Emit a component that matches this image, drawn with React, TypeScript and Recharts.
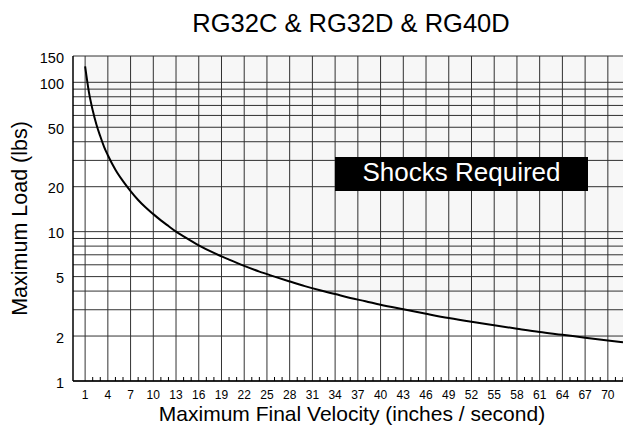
import React from "react";
import { ComposedChart, Area, Line, XAxis, YAxis, CartesianGrid } from "recharts";

// curve (velocity in inches/second, load in lbs)
const velocity = [
  1, 1.5, 2, 2.5, 3, 3.5, 4, 5, 6, 7, 8, 9, 10, 11, 12, 13, 14, 16, 18, 20, 22, 24, 26, 28, 30,
  32, 34, 36, 38, 40, 43, 46, 49, 52, 55, 58, 61, 64, 67, 70, 72,
];
const maxLoad = [
  128, 86, 65, 52, 43.5, 37, 32.5, 26, 21.8, 18.7, 16.3, 14.5, 13.1, 11.9, 10.9, 10.0, 9.3, 8.1,
  7.2, 6.5, 5.9, 5.4, 5.0, 4.64, 4.32, 4.05, 3.82, 3.6, 3.42, 3.24, 3.02, 2.82, 2.64, 2.49, 2.36,
  2.24, 2.13, 2.04, 1.95, 1.87, 1.82,
];

const loadTicks = [1, 2, 5, 10, 20, 50, 100, 150];
const loadGrid = [1, 2, 3, 4, 5, 6, 7, 8, 9, 10, 20, 30, 40, 50, 60, 70, 80, 90, 100, 150];
const velocityLabels = [
  1, 4, 7, 10, 13, 16, 19, 22, 25, 28, 31, 34, 37, 40, 43, 46, 49, 52, 55, 58, 61, 64, 67, 70,
];
const velocityMinor = velocityLabels.flatMap((v) => [v + 1, v + 2]);
const velocityTicks = [...velocityLabels, ...velocityMinor].sort((a, b) => a - b);

const CEILING = 150;
const FONT = "'Liberation Sans', Arial, sans-serif";

const data = velocity.map((v, i) => ({
  v,
  load: maxLoad[i],
  band: [maxLoad[i], CEILING],
}));

const XTick = (props: any) => {
  const { x, y, payload } = props;
  if (velocityLabels.includes(payload.value)) {
    return (
      <text x={x} y={y + 18} textAnchor="middle" fontSize={12} fill="#000" fontFamily={FONT}>
        {payload.value}
      </text>
    );
  }
  return <line x1={x} x2={x} y1={y} y2={y - 4} stroke="#000" strokeWidth={1} />;
};

const YTick = (props: any) => {
  const { x, y, payload } = props;
  return (
    <text x={x - 9} y={y + 1.5} dy="0.355em" textAnchor="end" fontSize={14.5} fill="#000" fontFamily={FONT}>
      {payload.value}
    </text>
  );
};

export default function App() {
  return (
    <div style={{ position: "absolute", left: 0, top: 0, width: 623, height: 425, background: "#fff" }}>
      <ComposedChart width={623} height={425} data={data} margin={{ top: 56, right: 0, bottom: 0, left: 0 }}>
        <CartesianGrid stroke="#333" strokeWidth={1} horizontalValues={loadGrid} verticalValues={velocityLabels} />
        <XAxis
          dataKey="v"
          type="number"
          domain={[-0.6, 72]}
          allowDataOverflow
          ticks={velocityTicks}
          interval={0}
          tick={<XTick />}
          tickLine={false}
          tickSize={0}
          tickMargin={0}
          height={44}
          axisLine={{ stroke: "#000", strokeWidth: 1.5 }}
        />
        <YAxis
          scale="log"
          domain={[1, CEILING]}
          allowDataOverflow
          ticks={loadTicks}
          interval={0}
          tick={<YTick />}
          tickLine={false}
          tickSize={0}
          tickMargin={0}
          width={73}
          axisLine={{ stroke: "#000", strokeWidth: 1.5 }}
        />
        <Area dataKey="band" type="monotone" stroke="none" fill="#000" fillOpacity={0.03} isAnimationActive={false} />
        <Line dataKey="load" type="monotone" stroke="#000" strokeWidth={2} dot={false} isAnimationActive={false} />
      </ComposedChart>
      <svg width={623} height={425} style={{ position: "absolute", left: 0, top: 0, pointerEvents: "none" }}>
        <text x={351} y={31.7} textAnchor="middle" fontSize={25.5} fontFamily={FONT} fill="#000">
          RG32C &amp; RG32D &amp; RG40D
        </text>
        <text x={352} y={420.5} textAnchor="middle" fontSize={21} fontFamily={FONT} fill="#000">
          Maximum Final Velocity (inches / second)
        </text>
        <text
          x={26.7}
          y={218.5}
          transform="rotate(-90 26.7 218.5)"
          textAnchor="middle"
          fontSize={21.5}
          fontFamily={FONT}
          fill="#000"
        >
          Maximum Load (lbs)
        </text>
        <rect x={335} y={157} width={253} height={34} fill="#000" />
        <text x={461.5} y={180.7} textAnchor="middle" fontSize={26} fontFamily={FONT} fill="#fff">
          Shocks Required
        </text>
      </svg>
    </div>
  );
}
